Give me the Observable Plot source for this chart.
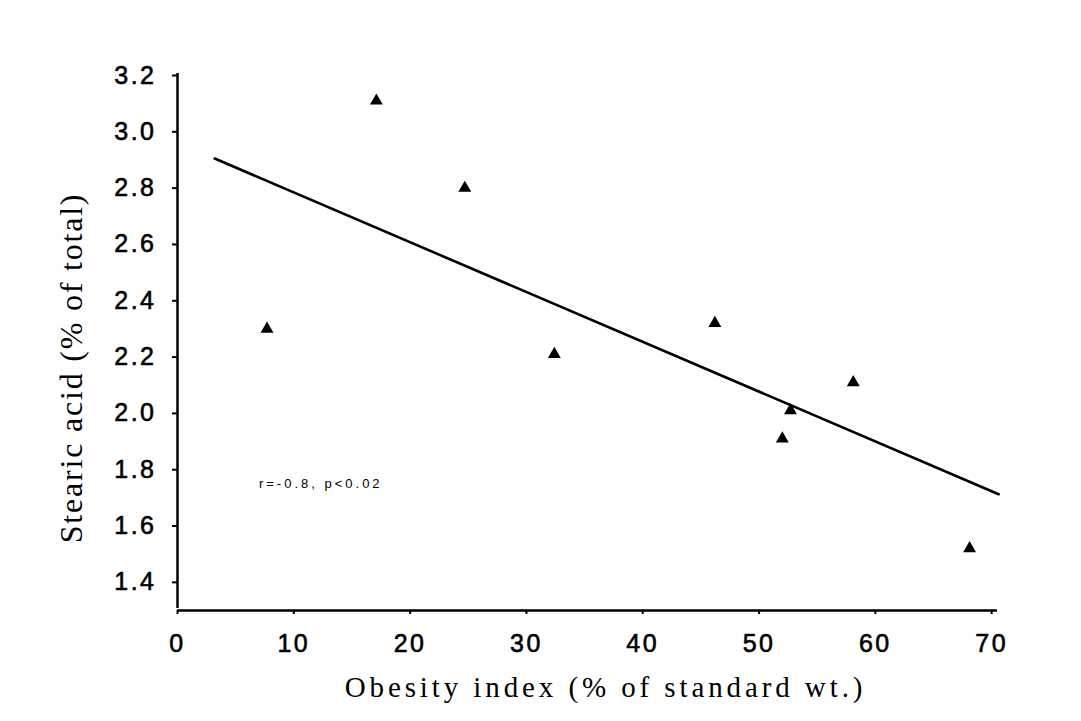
<!DOCTYPE html>
<html><head><meta charset="utf-8">
<script src="https://cdn.jsdelivr.net/npm/d3@7"></script>
<script src="https://cdn.jsdelivr.net/npm/@observablehq/plot@0.6"></script>
<style>
body{margin:0;background:#fff}
g[aria-label="y-axis tick label"] text, g[aria-label="x-axis tick label"] text {letter-spacing:2.5px; stroke:#000; stroke-width:0.6px}
</style>
</head><body><div id="chart"></div>
<script>
const obesityIndex = [7.7, 17.1, 24.7, 32.4, 46.2, 52.0, 52.7, 58.1, 68.1];
const stearicAcid = [2.30, 3.11, 2.80, 2.21, 2.32, 1.91, 2.01, 2.11, 1.52];
const fitX = [3.2, 70.6];
const fitY = [2.905, 1.713];
const xTicks = [0, 10, 20, 30, 40, 50, 60, 70];
const yTicks = [1.4, 1.6, 1.8, 2.0, 2.2, 2.4, 2.6, 2.8, 3.0, 3.2];
const xDomain = [0, 70.5];
const yDomain = [1.3, 3.2];
const xLabel = "Obesity index (% of standard wt.)";
const yLabel = "Stearic acid (% of total)";
const noteText = ["r=-0.8, p<0.02"];
const noteX = [7.0];
const noteY = [1.75];

const points = obesityIndex.map((x, i) => ({x, y: stearicAcid[i]}));
const fit = fitX.map((x, i) => ({x, y: fitY[i]}));

const chart = Plot.plot({
  width: 1081, height: 721,
  marginLeft: 177, marginRight: 84, marginTop: 75, marginBottom: 111,
  x: {domain: xDomain},
  y: {domain: yDomain},
  style: {background: "#fff", color: "#000", fontFamily: "'Liberation Sans', Arial, sans-serif", fontSize: "25px"},
  marks: [
    Plot.axisY({ticks: yTicks, tickFormat: d3.format(".1f"), tickSize: 5, tickPadding: 16, label: null, strokeWidth: 2}),
    Plot.axisX({ticks: xTicks, tickFormat: d3.format("d"), tickSize: 4, tickPadding: 20, label: null, strokeWidth: 2}),
    Plot.ruleX([xDomain[0]], {y1: yDomain[0], y2: yDomain[1], strokeWidth: 2.5, dy: -2}),
    Plot.ruleY([yDomain[0]], {x1: xDomain[0], x2: xDomain[1], strokeWidth: 2.5}),
    Plot.line(fit, {x: "x", y: "y", stroke: "#000", strokeWidth: 2.6}),
    Plot.dot(points, {x: "x", y: "y", symbol: "triangle", r: 4.8, fill: "#000", stroke: "none"}),
    Plot.text(noteText, {x: noteX, y: noteY, text: d => d, textAnchor: "start", fontSize: 13, fontFamily: "'Liberation Sans', Arial, sans-serif"}),
    Plot.text([xLabel], {frameAnchor: "bottom", textAnchor: "middle", text: d => d, dx: 18, dy: 86, fontSize: 29, fontFamily: "'Liberation Serif', 'Times New Roman', serif"}),
    Plot.text([yLabel], {frameAnchor: "left", textAnchor: "middle", text: d => d, rotate: -90, dx: -106, dy: 25, fontSize: 32, fontFamily: "'Liberation Serif', 'Times New Roman', serif"})
  ]
});
document.getElementById("chart").appendChild(chart);
d3.select(chart).selectAll("text").filter(function(){ return this.textContent === xLabel; }).style("letter-spacing", "3.9px");
d3.select(chart).selectAll("text").filter(function(){ return this.textContent === yLabel; }).style("letter-spacing", "1.8px");
d3.select(chart).selectAll("text").filter(function(){ return this.textContent === noteText[0]; }).style("letter-spacing", "3px");
</script>
</body></html>
